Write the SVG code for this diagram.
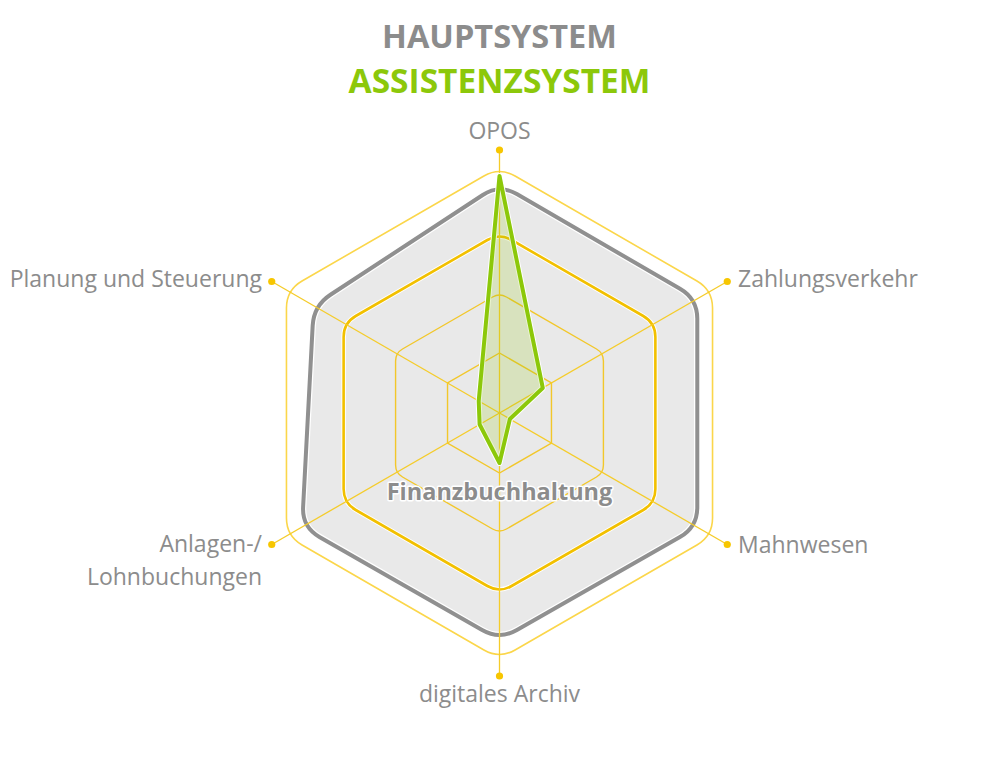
<svg xmlns="http://www.w3.org/2000/svg" width="1000" height="760" viewBox="0 0 1000 760">
<style>
.lbl{font-family:"Open Sans","Liberation Sans",sans-serif;font-size:23px;fill:#8c8c8c}
.ttl{font-family:"Open Sans","Liberation Sans",sans-serif;font-size:32.5px;font-weight:bold}
.ring{fill:none;stroke:#f2c72a;stroke-width:1.4}
.axis{stroke:#f5cc2a;stroke-width:1.3}
.dot{fill:#f7c600}
</style>
<rect width="1000" height="760" fill="#ffffff"/>
<g id="title">
<text class="ttl" x="499.5" y="48" text-anchor="middle" fill="#8c8c8c">HAUPTSYSTEM</text>
<text class="ttl" x="499.5" y="93" text-anchor="middle" fill="#8cc80a" style="font-size:33.5px">ASSISTENZSYSTEM</text>
</g>
<g id="chart" transform="translate(499.5,413)">
<g id="outer-ring">
<path d="M15.59,-237 L197.45,-132 Q213.04,-123 213.04,-105 L213.04,105 Q213.04,123 197.45,132 L15.59,237 Q0,246 -15.59,237 L-197.45,132 Q-213.04,123 -213.04,105 L-213.04,-105 Q-213.04,-123 -197.45,-132 L-15.59,-237 Q0,-246 15.59,-237Z" fill="none" stroke="#fbd64a" stroke-width="1.6"/>
</g>
<g id="hauptsystem">
<path d="M17.30,-218.96 L180.49,-124.24 Q197.79,-114.2 197.79,-94.2 L197.79,94.2 Q197.79,114.2 180.42,124.11 L17.37,217.09 Q0,227 -17.36,217.07 L-180.09,123.93 Q-197.45,114 -196.39,94.03 L-186.82,-87.28 Q-185.76,-107.25 -169.03,-118.21 L-16.73,-218.04 Q0,-229 17.30,-218.96Z" fill="#e9e9e9" stroke="#ffffff" stroke-width="6.5"/>
<path d="M17.30,-218.96 L180.49,-124.24 Q197.79,-114.2 197.79,-94.2 L197.79,94.2 Q197.79,114.2 180.42,124.11 L17.37,217.09 Q0,227 -17.36,217.07 L-180.09,123.93 Q-197.45,114 -196.39,94.03 L-186.82,-87.28 Q-185.76,-107.25 -169.03,-118.21 L-16.73,-218.04 Q0,-229 17.30,-218.96Z" fill="none" stroke="#909090" stroke-width="4"/>
</g>
<g id="grid">
<polygon class="ring" points="0,-60 51.96,-30 51.96,30 0,60 -51.96,30 -51.96,-30"/>
<path class="ring" d="M6.93,-116 L96.99,-64 Q103.92,-60 103.92,-52 L103.92,52 Q103.92,60 96.99,64 L6.93,116 Q0,120 -6.93,116 L-96.99,64 Q-103.92,60 -103.92,52 L-103.92,-52 Q-103.92,-60 -96.99,-64 L-6.93,-116 Q0,-120 6.93,-116Z"/>
<path d="M12.12,-173 L143.76,-97 Q155.88,-90 155.88,-76 L155.88,76 Q155.88,90 143.76,97 L12.12,173 Q0,180 -12.12,173 L-143.76,97 Q-155.88,90 -155.88,76 L-155.88,-76 Q-155.88,-90 -143.76,-97 L-12.12,-173 Q0,-180 12.12,-173Z" fill="none" stroke="#ffffff" stroke-width="4.5"/>
<path d="M12.12,-173 L143.76,-97 Q155.88,-90 155.88,-76 L155.88,76 Q155.88,90 143.76,97 L12.12,173 Q0,180 -12.12,173 L-143.76,97 Q-155.88,90 -155.88,76 L-155.88,-76 Q-155.88,-90 -143.76,-97 L-12.12,-173 Q0,-180 12.12,-173Z" fill="none" stroke="#f2c000" stroke-width="2.6"/>
</g>
<g id="axes">
<line class="axis" x1="0" y1="0" x2="0" y2="-263"/>
<line class="axis" x1="0" y1="0" x2="227.77" y2="-131.5"/>
<line class="axis" x1="0" y1="0" x2="227.77" y2="131.5"/>
<line class="axis" x1="0" y1="0" x2="0" y2="263"/>
<line class="axis" x1="0" y1="0" x2="-227.77" y2="131.5"/>
<line class="axis" x1="0" y1="0" x2="-227.77" y2="-131.5"/>
<circle class="dot" cx="0" cy="-263" r="3.6"/>
<circle class="dot" cx="227.77" cy="-131.5" r="3.6"/>
<circle class="dot" cx="227.77" cy="131.5" r="3.6"/>
<circle class="dot" cx="0" cy="263" r="3.6"/>
<circle class="dot" cx="-227.77" cy="131.5" r="3.6"/>
<circle class="dot" cx="-227.77" cy="-131.5" r="3.6"/>
</g>
<g id="assistenzsystem">
<polygon points="0,-237 43.3,-25 10.4,6 0,50 -19.9,11.5 -20.8,-12" fill="none" stroke="#ffffff" stroke-width="6" stroke-linejoin="round"/>
<polygon points="0,-237 43.3,-25 10.4,6 0,50 -19.9,11.5 -20.8,-12" fill="#96c814" fill-opacity="0.2" stroke="#8cc80a" stroke-width="4" stroke-linejoin="round"/>
</g>
<text x="0" y="87" text-anchor="middle" font-family="'Open Sans','Liberation Sans',sans-serif" font-size="23.5" font-weight="bold" fill="#8c8c8c" stroke="#ffffff" stroke-width="3" paint-order="stroke" stroke-linejoin="round">Finanzbuchhaltung</text>
</g>
<g id="labels">
<g id="node-opos"><text class="lbl" x="499.5" y="139" text-anchor="middle">OPOS</text></g>
<g id="node-zahlungsverkehr"><text class="lbl" x="738" y="287">Zahlungsverkehr</text></g>
<g id="node-mahnwesen"><text class="lbl" x="738" y="553">Mahnwesen</text></g>
<g id="node-archiv"><text class="lbl" x="499.5" y="702" text-anchor="middle">digitales Archiv</text></g>
<g id="node-anlagen"><text class="lbl" x="262" y="552" text-anchor="end">Anlagen-/</text><text class="lbl" x="262" y="585" text-anchor="end">Lohnbuchungen</text></g>
<g id="node-planung"><text class="lbl" x="262" y="287" text-anchor="end">Planung und Steuerung</text></g>
</g>
</svg>
